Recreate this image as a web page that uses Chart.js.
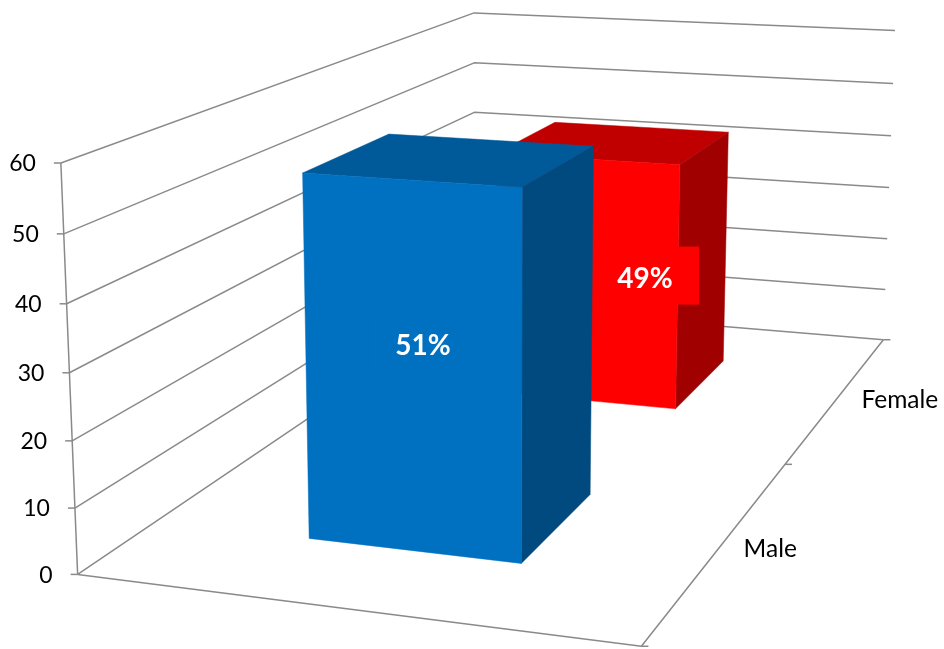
<!DOCTYPE html>
<html><head><meta charset="utf-8">
<style>html,body{margin:0;padding:0;background:#fff}canvas{display:block}</style>
<script src="https://cdn.jsdelivr.net/npm/chart.js@4"></script>
</head><body><canvas id="c" width="944" height="649"></canvas>
<script>
// Depth runs back to front, so the back bar is painted first.
const categories = ['Female', 'Male'];
const values = [43.5, 55.5];
const valueLabels = ['49%', '51%'];
const frontColors = ['#FF0000', '#0070C0'];
const topColors = ['#C00000', '#005A9A'];
const sideColors = ['#A00000', '#004A80'];
const labelNudge = [[52, 14], [0, 2]];
const axisMax = 60;
const axisStep = 10;

// Camera calibration: cube corner (u, v, h) -> where it lands in the picture.
const calibration = [
  [0,0,0, 78,572],[1,0,0, 638,648],[1,1,0, 885,338],[0,1,0, 475,308],
  [0,0,1, 60,165],[0,1,1, 474,11],[1,1,1, 893,32],[1,0,1, 652,201]
];
function solveCamera(pts){
  const A=[],B=[];
  pts.forEach(([u,v,h,x,y])=>{
    A.push([u,v,h,1,0,0,0,0,-x*u,-x*v,-x*h]);B.push(x);
    A.push([0,0,0,0,u,v,h,1,-y*u,-y*v,-y*h]);B.push(y);
  });
  const n=11,M=[];
  for(let i=0;i<n;i++){M[i]=[];
    for(let j=0;j<n;j++){let s=0;A.forEach(r=>s+=r[i]*r[j]);M[i][j]=s;}
    let s=0;A.forEach((r,k)=>s+=r[i]*B[k]);M[i][n]=s;}
  for(let i=0;i<n;i++){
    let p=i;for(let k=i+1;k<n;k++)if(Math.abs(M[k][i])>Math.abs(M[p][i]))p=k;
    [M[i],M[p]]=[M[p],M[i]];
    for(let k=0;k<n;k++){if(k===i)continue;const f=M[k][i]/M[i][i];
      for(let j=i;j<=n;j++)M[k][j]-=f*M[i][j];}
  }
  return M.map((r,i)=>r[n]/r[i]);
}
const P=solveCamera(calibration);
function project(u,v,h){
  const w=P[8]*u+P[9]*v+P[10]*h+1;
  return [(P[0]*u+P[1]*v+P[2]*h+P[3])/w,(P[4]*u+P[5]*v+P[6]*h+P[7])/w];
}
const LATERAL=[0.3,0.698];
const LINE='#8a8a8a';
const FONT='Lato, "Open Sans", sans-serif';

function poly(ctx,pts,color){
  ctx.beginPath();pts.forEach((p,i)=>i?ctx.lineTo(p[0],p[1]):ctx.moveTo(p[0],p[1]));
  ctx.closePath();ctx.fillStyle=color;ctx.fill();
  ctx.strokeStyle=color;ctx.lineWidth=0.5;ctx.stroke();
}
function path(ctx,pts){
  ctx.beginPath();pts.forEach((p,i)=>i?ctx.lineTo(p[0],p[1]):ctx.moveTo(p[0],p[1]));ctx.stroke();
}

const cube3d={
  id:'cube3d',
  beforeDatasetsDraw(chart){
    const {ctx,chartArea:a,scales:{x,y}}=chart;
    ctx.save();ctx.strokeStyle=LINE;ctx.lineWidth=1.5;ctx.lineJoin='round';
    // value axis: walls, ticks, numbers
    y.ticks.forEach(t=>{
      const h=(a.bottom-y.getPixelForValue(t.value))/(a.bottom-a.top);
      const f=project(0,0,h),b=project(0,1,h),r=project(1,1,h);
      path(ctx,[f,b,r]);
      path(ctx,[[f[0]-7,f[1]],f]);
      ctx.fillStyle='#000';ctx.font='23px '+FONT;ctx.textAlign='right';ctx.textBaseline='middle';
      ctx.fillText(String(t.value),f[0]-25,f[1]+1);
    });
    path(ctx,[project(0,0,1),project(0,0,0)]);
    path(ctx,[project(0,0,0),project(1,0,0),project(1,1,0)]);
    // depth axis: ticks at category edges, names at centres
    const n=categories.length;
    for(let i=0;i<=n;i++){const p=project(1,i/n,0);path(ctx,[p,[p[0]+7,p[1]]]);}
    categories.forEach((c,i)=>{
      const v=1-(x.getPixelForValue(i)-a.left)/(a.right-a.left);
      const p=project(1,v,0);
      ctx.fillStyle='#000';ctx.font='24.5px '+FONT;ctx.textAlign='left';ctx.textBaseline='middle';
      ctx.fillText(c,p[0]+23,p[1]+3);
    });
    ctx.restore();
    // bars become boxes, built from the positions the bar controller computed
    chart.getDatasetMeta(0).data.forEach((el,i)=>{
      el.draw=function(c){
        const v0=1-(el.x+el.width/2-a.left)/(a.right-a.left);
        const v1=1-(el.x-el.width/2-a.left)/(a.right-a.left);
        const h=(el.base-el.y)/(a.bottom-a.top);
        const [u0,u1]=LATERAL;
        c.save();
        poly(c,[project(u0,v0,h),project(u1,v0,h),project(u1,v1,h),project(u0,v1,h)],topColors[i]);
        poly(c,[project(u1,v0,0),project(u1,v0,h),project(u1,v1,h),project(u1,v1,0)],sideColors[i]);
        poly(c,[project(u0,v0,0),project(u1,v0,0),project(u1,v0,h),project(u0,v0,h)],frontColors[i]);
        const m=project((u0+u1)/2,v0+(v1-v0)*0.13,h*0.546);
        const lx=m[0]+labelNudge[i][0],ly=m[1]+labelNudge[i][1];
        c.fillStyle=frontColors[i];
        c.fillRect(lx-54,ly-32,108,58);
        c.fillStyle='#fff';c.font='bold 28px '+FONT;c.textAlign='center';c.textBaseline='middle';
        c.fillText(valueLabels[i],lx,ly);
        c.restore();
      };
    });
  }
};

new Chart(document.getElementById('c'),{
  type:'bar',
  data:{labels:categories,datasets:[{data:values,backgroundColor:frontColors,barPercentage:0.4,categoryPercentage:1}]},
  options:{
    responsive:false,animation:false,
    plugins:{legend:{display:false},tooltip:{enabled:false},title:{display:false}},
    scales:{
      x:{display:false},
      y:{display:false,min:0,max:axisMax,ticks:{stepSize:axisStep}}
    }
  },
  plugins:[cube3d]
});
</script></body></html>
